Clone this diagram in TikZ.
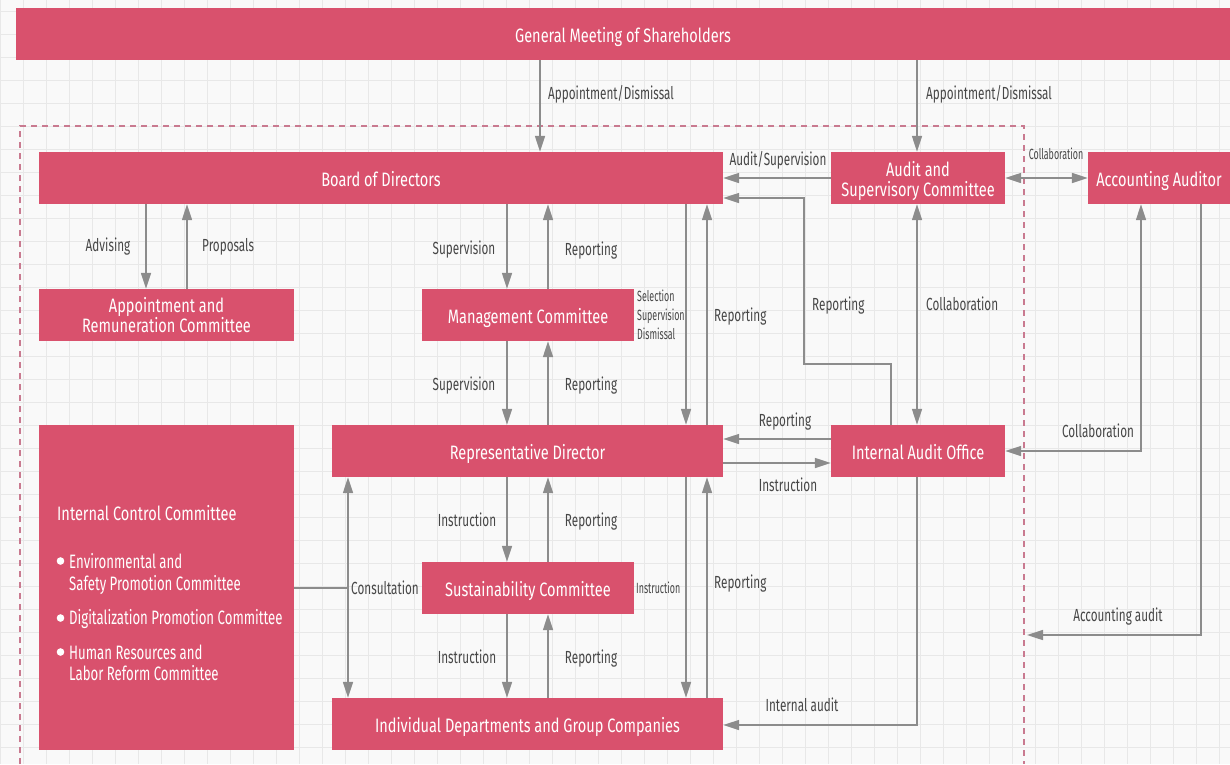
\documentclass[tikz,border=0pt]{standalone}
\usepackage{fontspec}
\setmainfont{Fira Sans}[FakeStretch=0.67]
\newfontfamily\boxfont{Fira Sans}[FakeStretch=0.75]
\newfontfamily\itemfont{Fira Sans}[FakeStretch=0.68]
\newfontfamily\narrowfont{Fira Sans}[FakeStretch=0.60]
\usetikzlibrary{arrows.meta,calc}
\definecolor{boxred}{HTML}{D9516D}
\definecolor{bgcol}{HTML}{F9F9F9}
\definecolor{gridcol}{HTML}{E8E8E8}
\definecolor{arrcol}{HTML}{8C8C8C}
\definecolor{lblcol}{HTML}{474747}
\definecolor{dashcol}{HTML}{C97A90}
\tikzset{
  box/.style={fill=boxred, draw=none, text=white, align=center, inner sep=0pt,
    text height=17.4pt, text depth=0pt,
    font=\boxfont\fontsize{19.4}{20}\selectfont},
  btxt/.style={text=white, inner sep=0pt, text height=13.4pt, text depth=0pt,
    font=\boxfont\fontsize{19.4}{20}\selectfont},
  arr/.style={draw=arrcol, line width=1.6pt, -{Triangle[length=16pt,width=10pt]}},
  darr/.style={draw=arrcol, line width=1.6pt, {Triangle[length=16pt,width=10pt]}-{Triangle[length=16pt,width=10pt]}},
  plain/.style={draw=arrcol, line width=1.6pt},
  lbl/.style={text=lblcol, inner sep=0pt, text height=12pt, text depth=0pt,
    font=\fontsize{17.5}{20}\selectfont},
  slbl/.style={text=lblcol, inner sep=0pt, text height=10.2pt, text depth=0pt,
    font=\narrowfont\fontsize{14.8}{16}\selectfont},
  wtxt/.style={text=white, inner sep=0pt, anchor=west, text height=13.4pt, text depth=0pt,
    font=\itemfont\fontsize{19.4}{20}\selectfont},
  gridline/.style={draw=gridcol, line width=1pt}
}
\begin{document}
\begin{tikzpicture}[x=1pt,y=-1pt]
\useasboundingbox (0,0) rectangle (1230,764);
\fill[bgcol] (0,0) rectangle (1230,764);
\foreach \i in {0,...,53} \draw[gridline] (\i*23+0.5,0) -- (\i*23+0.5,764);
\foreach \j in {0,...,33} \draw[gridline] (0,\j*23+11.3) -- (1230,\j*23+11.3);
% dashed frame
\draw[dashcol, line width=1.6pt, dash pattern=on 6pt off 5pt] (20,764) -- (20,126) -- (1024,126) -- (1024,764);
% boxes
\node[box, minimum width=1214pt, minimum height=52pt] (gm) at (623,34) {General Meeting of Shareholders};
\node[box, minimum width=684pt, minimum height=52pt] (bod) at (381,178) {Board of Directors};
\node[box, minimum width=174pt, minimum height=52pt] (as) at (918,178) {};
\node[btxt] (as1) at (918,169.3) {Audit and};
\node[btxt] (as2) at (918,189.5) {Supervisory Committee};
\node[box, minimum width=142pt, minimum height=52pt] (aa) at (1159,178) {Accounting Auditor};
\node[box, minimum width=255pt, minimum height=52pt] (arc) at (166.5,315) {};
\node[btxt] (arc1) at (166.5,306) {Appointment and};
\node[btxt] (arc2) at (166.5,326) {Remuneration Committee};
\node[box, minimum width=212pt, minimum height=52pt] (mc) at (528,315) {Management Committee};
\node[box, minimum width=391pt, minimum height=52pt] (rd) at (527.5,451) {Representative Director};
\node[box, minimum width=174pt, minimum height=52pt] (iao) at (918,451) {Internal Audit Office};
\node[box, minimum width=255pt, minimum height=325pt] (icc) at (166.5,587.5) {};
\node[box, minimum width=212pt, minimum height=52pt] (sc) at (528,588) {Sustainability Committee};
\node[box, minimum width=391pt, minimum height=52pt] (id) at (527.5,724) {Individual Departments and Group Companies};
% internal control committee text
\node[btxt, anchor=west] (icct) at (57,514) {Internal Control Committee};
\fill[white] (60.5,561) circle (3.8pt);
\node[wtxt] (icc1a) at (69,562) {Environmental and};
\node[wtxt] (icc1b) at (69,583.7) {Safety Promotion Committee};
\fill[white] (60.5,618) circle (3.8pt);
\node[wtxt] (icc2) at (69,618) {Digitalization Promotion Committee};
\fill[white] (60.5,652) circle (3.8pt);
\node[wtxt] (icc3a) at (69,652.5) {Human Resources and};
\node[wtxt] (icc3b) at (69,673.7) {Labor Reform Committee};
% arrows
\draw[arr] (540,0 |- gm.south) -- (540,0 |- bod.north);
\draw[arr] (917,0 |- gm.south) -- (917,0 |- as.north);
\draw[arr] (as.west) -- (bod.east |- as.west);
\draw[darr] (as.east) -- (aa.west);
\draw[arr] (146,0 |- bod.south) -- (146,0 |- arc.north);
\draw[arr] (187,0 |- arc.north) -- (187,0 |- bod.south);
\draw[arr] (507,0 |- bod.south) -- (507,0 |- mc.north);
\draw[arr] (548,0 |- mc.north) -- (548,0 |- bod.south);
\draw[arr] (507,0 |- mc.south) -- (507,0 |- rd.north);
\draw[arr] (548,0 |- rd.north) -- (548,0 |- mc.south);
\draw[arr] (507,0 |- rd.south) -- (507,0 |- sc.north);
\draw[arr] (548,0 |- sc.north) -- (548,0 |- rd.south);
\draw[arr] (507,0 |- sc.south) -- (507,0 |- id.north);
\draw[arr] (548,0 |- id.north) -- (548,0 |- sc.south);
\draw[arr] (686,0 |- bod.south) -- (686,0 |- rd.north);
\draw[arr] (707,0 |- rd.north) -- (707,0 |- bod.south);
\draw[arr] (686,0 |- rd.south) -- (686,0 |- id.north);
\draw[arr] (707,0 |- id.north) -- (707,0 |- rd.south);
\draw[arr] (891,0 |- iao.north) -- (891,364) -- (804,364) -- (804,198) -- (bod.east |- 0,198);
\draw[darr] (917,0 |- as.south) -- (917,0 |- iao.north);
\draw[arr] (iao.west |- 0,439) -- (rd.east |- 0,439);
\draw[arr] (rd.east |- 0,463) -- (iao.west |- 0,463);
\draw[darr] (iao.east) -- (1141,451) -- (1141,0 |- aa.south);
\coordinate (aaend) at (1027,635);
\draw[arr] (1201,0 |- aa.south) -- (1201,635) -- (aaend);
\draw[arr] (917,0 |- iao.south) -- (917,725) -- (id.east |- 0,725);
\draw[plain] (icc.east |- 0,588) -- (348,588);
\draw[darr] (348,0 |- rd.south) -- (348,0 |- id.north);
% labels
\node[lbl, anchor=west] (l1) at (548,93) {Appointment/Dismissal};
\node[lbl, anchor=west] (l2) at (926,93) {Appointment/Dismissal};
\node[lbl] (l3) at (778,159) {Audit/Supervision};
\node[slbl] (l4) at (1056,154) {Collaboration};
\node[lbl] (l5) at (108,245) {Advising};
\node[lbl, anchor=west] (l6) at (202,245) {Proposals};
\node[lbl] (l7) at (464,248) {Supervision};
\node[lbl] (l8) at (591,249) {Reporting};
\node[lbl] (l9) at (464,384) {Supervision};
\node[lbl] (l10) at (591,384) {Reporting};
\node[slbl, anchor=west] (l11a) at (637,296) {Selection};
\node[slbl, anchor=west] (l11b) at (637,315) {Supervision};
\node[slbl, anchor=west] (l11c) at (637,334) {Dismissal};
\node[lbl, anchor=west] (l12) at (714,315) {Reporting};
\node[lbl, anchor=west] (l13) at (812,304) {Reporting};
\node[lbl, anchor=west] (l14) at (926,304) {Collaboration};
\node[lbl] (l15) at (785,420) {Reporting};
\node[lbl] (l16) at (788,485) {Instruction};
\node[lbl] (l17) at (1098,431) {Collaboration};
\node[lbl] (l18) at (467,520) {Instruction};
\node[lbl] (l19) at (591,520) {Reporting};
\node[lbl] (l20) at (385,588) {Consultation};
\node[slbl, anchor=west] (l21) at (636,588) {Instruction};
\node[lbl, anchor=west] (l22) at (714,582) {Reporting};
\node[lbl] (l23) at (467,657) {Instruction};
\node[lbl] (l24) at (591,657) {Reporting};
\node[lbl] (l25) at (802,705) {Internal audit};
\node[lbl] (l26) at (1118,615) {Accounting audit};
\end{tikzpicture}
\end{document}
